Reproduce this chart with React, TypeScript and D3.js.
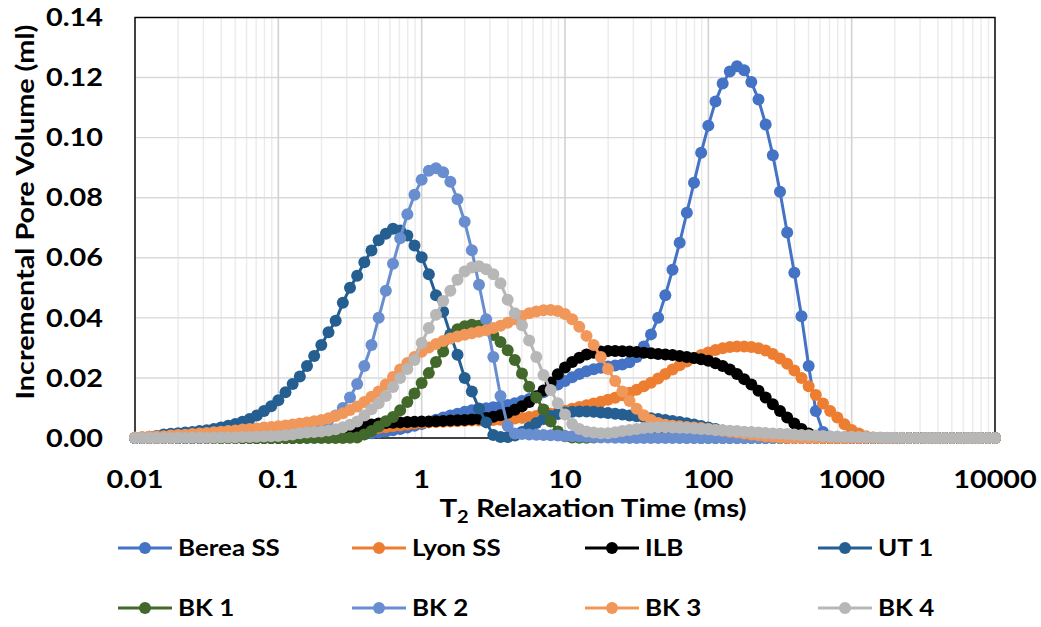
import React from 'react';
import * as d3 from 'd3';

// T2 bins: 20 log-spaced bins per decade, 0.01 ms to 10000 ms (121 bins)
const T2_BINS: number[] = d3.range(121).map((i) => 0.01 * Math.pow(10, i / 20));

// Incremental pore volume per bin, in µL (0.001 ml)
const bereaSS = [
  0, 0, 0, 0, 0.1, 0.1, 0.1, 0.1, 0.1, 0.2,
  0.2, 0.2, 0.2, 0.2, 0.3, 0.3, 0.3, 0.3, 0.4, 0.4,
  0.4, 0.4, 0.5, 0.5, 0.5, 0.6, 0.6, 0.7, 0.8, 0.9,
  1.0, 1.2, 1.4, 1.6, 1.9, 2.2, 2.6, 3.0, 3.5, 4.1,
  4.7, 5.4, 6.1, 6.8, 7.5, 8.1, 8.7, 9.2, 9.6, 9.9,
  10.2, 10.6, 11.0, 11.6, 12.3, 13.0, 14.0, 15.2, 16.5, 17.8,
  19.0, 20.2, 21.3, 22.2, 22.9, 23.4, 23.8, 24.1, 24.5, 25.2,
  27.0, 30.5, 34.5, 40.0, 47.5, 56.0, 65.0, 75.0, 85.0, 95.0,
  104.0, 112.0, 118.0, 122.0, 123.8, 122.4, 118.5, 112.7, 104.4, 94.1,
  82.0, 68.4, 55.0, 40.5, 24.0, 9.0, 2.0, 0.3, 0, 0,
  0, 0, 0, 0, 0, 0, 0, 0, 0, 0,
  0, 0, 0, 0, 0, 0, 0, 0, 0, 0, 0,
];
const lyonSS = [
  0, 0, 0, 0, 0, 0, 0.1, 0.1, 0.1, 0.1,
  0.1, 0.1, 0.2, 0.2, 0.2, 0.2, 0.3, 0.3, 0.3, 0.4,
  0.4, 0.5, 0.6, 0.7, 0.8, 1.0, 1.2, 1.4, 1.6, 1.8,
  2.0, 2.3, 2.6, 3.0, 3.3, 3.6, 3.9, 4.2, 4.5, 4.8,
  5.0, 5.2, 5.3, 5.4, 5.5, 5.6, 5.7, 5.8, 5.8, 5.9,
  6.0, 6.1, 6.3, 6.5, 6.7, 7.0, 7.3, 7.7, 8.1, 8.6,
  9.1, 9.7, 10.3, 10.9, 11.5, 12.1, 12.7, 13.4, 14.2, 15.1,
  16.1, 17.2, 18.4, 19.8, 21.3, 22.8, 24.2, 25.5, 26.6, 27.6,
  28.5, 29.3, 29.9, 30.3, 30.5, 30.5, 30.3, 29.9, 29.1, 28.0,
  26.5, 24.7, 22.5, 20.0, 17.2, 14.3, 11.5, 9.0, 6.8, 4.6,
  2.7, 1.5, 0.6, 0.2, 0, 0, 0, 0, 0, 0,
  0, 0, 0, 0, 0, 0, 0, 0, 0, 0, 0,
];
const ilb = [
  0, 0, 0, 0, 0, 0, 0, 0, 0, 0,
  0, 0, 0, 0, 0, 0, 0, 0, 0, 0,
  0, 0, 0, 0.1, 0.2, 0.3, 0.5, 1.0, 1.6, 2.3,
  3.0, 3.6, 4.1, 4.5, 4.8, 5.0, 5.1, 5.2, 5.3, 5.4,
  5.5, 5.5, 5.6, 5.7, 5.8, 5.9, 6.0, 6.2, 6.4, 6.7,
  7.1, 7.6, 8.4, 9.4, 10.6, 12.0, 13.8, 15.8, 18.5, 21.2,
  23.5, 25.3, 26.7, 27.8, 28.4, 28.8, 29.0, 29.0, 28.9, 28.8,
  28.6, 28.4, 28.2, 28.0, 27.8, 27.6, 27.3, 27.0, 26.6, 26.2,
  25.7, 24.9, 24.0, 22.8, 21.3, 19.6, 17.8, 15.7, 13.5, 11.2,
  9.0, 6.8, 4.8, 3.0, 1.5, 0.5, 0, 0, 0, 0,
  0, 0, 0, 0, 0, 0, 0, 0, 0, 0,
  0, 0, 0, 0, 0, 0, 0, 0, 0, 0, 0,
];
const ut1 = [
  0, 0.2, 0.4, 0.7, 1.2, 1.4, 1.6, 1.8, 2.0, 2.3,
  2.6, 3.0, 3.5, 4.1, 4.7, 5.4, 6.3, 7.5, 9.0, 10.6,
  12.6, 15.2, 18.0, 20.5, 24.0, 27.3, 31.0, 35.2, 39.0, 45.0,
  50.0, 54.0, 58.5, 62.4, 65.8, 68.0, 69.7, 69.1, 67.4, 64.1,
  60.2, 54.5, 47.5, 42.0, 34.5, 27.7, 20.0, 15.5, 9.8, 5.2,
  1.0, 0.3, 0.3, 0.8, 2.0, 3.5, 5.0, 6.3, 7.3, 8.0,
  8.5, 8.7, 8.8, 8.8, 8.7, 8.5, 8.3, 8.1, 7.8, 7.5,
  7.2, 6.9, 6.6, 6.3, 6.0, 5.7, 5.3, 4.9, 4.5, 4.0,
  3.5, 3.0, 2.5, 2.0, 1.6, 1.2, 0.9, 0.6, 0.4, 0.2,
  0.1, 0, 0, 0, 0, 0, 0, 0, 0, 0,
  0, 0, 0, 0, 0, 0, 0, 0, 0, 0,
  0, 0, 0, 0, 0, 0, 0, 0, 0, 0, 0,
];
const bk1 = [
  0, 0, 0, 0, 0, 0, 0, 0, 0, 0,
  0, 0, 0, 0, 0, 0, 0, 0, 0, 0,
  0, 0, 0, 0, 0, 0, 0, 0, 0, 0,
  0.1, 0.2, 1.2, 2.3, 3.8, 5.6, 7.0, 9.2, 12.0, 14.8,
  18.3, 21.6, 25.3, 28.8, 33.3, 36.2, 37.2, 37.7, 37.4, 36.2,
  34.3, 32.0, 29.2, 26.0, 21.5, 17.1, 13.5, 9.5, 5.5, 2.2,
  0.6, 0.2, 0.1, 0.1, 0.2, 0.3, 0.4, 0.5, 0.5, 0.5,
  0.5, 0.4, 0.4, 0.3, 0.3, 0.2, 0.2, 0.1, 0.1, 0,
  0, 0, 0, 0, 0, 0, 0, 0, 0, 0,
  0, 0, 0, 0, 0, 0, 0, 0, 0, 0,
  0, 0, 0, 0, 0, 0, 0, 0, 0, 0,
  0, 0, 0, 0, 0, 0, 0, 0, 0, 0, 0,
];
const bk2 = [
  0, 0, 0, 0.1, 0.1, 0.1, 0.1, 0.1, 0.2, 0.2,
  0.2, 0.3, 0.3, 0.4, 0.5, 0.6, 0.7, 0.8, 1.0, 1.2,
  1.5, 1.8, 2.2, 2.7, 3.3, 4.0, 4.9, 6.0, 7.5, 10.0,
  13.5, 18.0, 24.0, 31.0, 40.0, 49.0, 58.0, 66.5, 74.5, 81.0,
  86.0, 89.0, 89.8, 88.5, 85.3, 79.5, 72.0, 62.5, 51.0, 39.5,
  27.0, 14.0, 4.0, 1.5, 1.3, 1.2, 1.1, 1.0, 0.9, 0.8,
  0.7, 0.6, 0.5, 0.4, 0.3, 0.2, 0.2, 0.1, 0.1, 0,
  0, 0, 0, 0, 0, 0, 0, 0, 0, 0,
  0, 0, 0, 0, 0, 0, 0, 0, 0, 0,
  0, 0, 0, 0, 0, 0, 0, 0, 0, 0,
  0, 0, 0, 0, 0, 0, 0, 0, 0, 0,
  0, 0, 0, 0, 0, 0, 0, 0, 0, 0, 0,
];
const bk3 = [
  0.2, 0.3, 0.4, 0.5, 0.6, 0.8, 1.0, 1.1, 1.3, 1.5,
  1.7, 1.9, 2.1, 2.3, 2.5, 2.8, 3.0, 3.2, 3.5, 3.7,
  3.9, 4.2, 4.5, 4.8, 5.2, 5.6, 6.0, 6.6, 7.3, 8.2,
  9.3, 10.5, 12.0, 13.7, 15.5, 17.8, 20.3, 22.8, 25.0, 27.0,
  28.7, 30.1, 31.3, 32.3, 33.1, 33.8, 34.4, 34.9, 35.4, 35.9,
  36.6, 37.4, 38.4, 39.5, 40.6, 41.5, 42.1, 42.5, 42.6, 42.3,
  41.3, 39.5, 37.0, 34.0, 31.0, 27.0, 23.0, 19.0, 15.5, 12.3,
  9.7, 7.6, 6.0, 5.0, 4.4, 4.1, 3.9, 3.7, 3.5, 3.3,
  3.0, 2.7, 2.4, 2.1, 1.8, 1.5, 1.2, 0.9, 0.6, 0.4,
  0.2, 0.1, 0, 0, 0, 0, 0, 0, 0, 0,
  0, 0, 0, 0, 0, 0, 0, 0, 0, 0,
  0, 0, 0, 0, 0, 0, 0, 0, 0, 0, 0,
];
const bk4 = [
  0, 0, 0, 0, 0, 0, 0.1, 0.1, 0.1, 0.1,
  0.1, 0.1, 0.2, 0.2, 0.2, 0.3, 0.3, 0.4, 0.5, 0.6,
  0.7, 0.9, 1.2, 1.6, 1.8, 2.0, 2.2, 2.5, 2.9, 3.6,
  4.4, 5.5, 7.5, 9.6, 11.6, 14.0, 17.0, 20.0, 23.0, 26.0,
  31.6, 36.6, 41.0, 45.6, 49.0, 52.7, 55.4, 56.8, 57.2, 56.2,
  54.5, 51.5, 46.0, 41.5, 37.5, 32.5, 27.0, 21.0, 16.0, 11.6,
  7.8, 4.7, 3.0, 2.2, 1.8, 1.6, 1.6, 1.9, 2.3, 2.7,
  3.0, 3.3, 3.5, 3.6, 3.6, 3.5, 3.4, 3.3, 3.2, 3.0,
  2.9, 2.7, 2.6, 2.4, 2.3, 2.1, 2.0, 1.8, 1.7, 1.5,
  1.4, 1.3, 1.2, 1.0, 0.9, 0.8, 0.7, 0.6, 0.5, 0.4,
  0.4, 0.3, 0.3, 0.2, 0.2, 0.1, 0.1, 0.1, 0, 0,
  0, 0, 0, 0, 0, 0, 0, 0, 0, 0, 0,
];

const SERIES_NAMES = ['Berea SS', 'Lyon SS', 'ILB', 'UT 1', 'BK 1', 'BK 2', 'BK 3', 'BK 4'];
const SERIES_COLORS = ['#4472C4', '#ED7D31', '#000000', '#255E91', '#43682B', '#698ED0', '#F1975A', '#B7B7B7'];
const SERIES_VALUES = [bereaSS, lyonSS, ilb, ut1, bk1, bk2, bk3, bk4];

const X_TICKS = [0.01, 0.1, 1, 10, 100, 1000, 10000];
const X_TICK_LABELS = ['0.01', '0.1', '1', '10', '100', '1000', '10000'];
const Y_TICKS = [0, 0.02, 0.04, 0.06, 0.08, 0.1, 0.12, 0.14];

const FONT = "Lato, 'Open Sans', 'DejaVu Sans', sans-serif";
const SX = 1.2; // horizontal glyph widening to mimic the reference face

export default function App() {
  const W = 1041;
  const H = 627;
  const left = 135, right = 995, top = 17.5, bottom = 438;
  const x = d3.scaleLog().domain([0.01, 10000]).range([left, right]);
  const y = d3.scaleLinear().domain([0, 0.14]).range([bottom, top]);

  const minor: number[] = [];
  X_TICKS.slice(0, -1).forEach((d) => {
    for (let k = 2; k <= 9; k++) minor.push(d * k);
  });

  const line = d3
    .line<number>()
    .x((_, i) => x(T2_BINS[i]))
    .y((v) => y(v / 1000));

  const legendCols = [118, 352, 585, 818];
  const legendRows = [548, 608];
  const R = 6;

  return (
    <svg
      width={W}
      height={H}
      style={{ position: 'absolute', left: 0, top: 0, background: '#fff' }}
      fontFamily={FONT}
      fontWeight={700}
    >
      <rect x={0} y={0} width={W} height={H} fill="#fff" />
      {minor.map((d, i) => (
        <line key={'mn' + i} x1={x(d)} x2={x(d)} y1={top} y2={bottom} stroke="#EBEBEB" strokeWidth={1.4} />
      ))}
      {Y_TICKS.map((t, i) => (
        <line key={'hy' + i} x1={left} x2={right} y1={y(t)} y2={y(t)} stroke="#D9D9D9" strokeWidth={1.4} />
      ))}
      {X_TICKS.map((t, i) => (
        <line key={'mj' + i} x1={x(t)} x2={x(t)} y1={top} y2={bottom} stroke="#D2D2D2" strokeWidth={1.6} />
      ))}
      <rect x={left} y={top} width={right - left} height={bottom - top} fill="none" stroke="#000" strokeWidth={1.4} />

      {SERIES_VALUES.map((vals, s) => (
        <g key={'s' + s}>
          <path d={line(vals) || ''} fill="none" stroke={SERIES_COLORS[s]} strokeWidth={3} />
          {vals.map((v, i) => (
            <circle key={i} cx={x(T2_BINS[i])} cy={y(v / 1000)} r={R} fill={SERIES_COLORS[s]} />
          ))}
        </g>
      ))}

      {Y_TICKS.map((t, i) => (
        <text
          key={'yl' + i}
          transform={`translate(103, ${y(t)}) scale(${SX}, 1)`}
          dy="0.36em"
          textAnchor="end"
          fontSize={24}
          fill="#000"
        >
          {t.toFixed(2)}
        </text>
      ))}
      {X_TICKS.map((t, i) => (
        <text
          key={'xl' + i}
          transform={`translate(${x(t)}, 488) scale(${SX}, 1)`}
          textAnchor="middle"
          fontSize={24}
          fill="#000"
        >
          {X_TICK_LABELS[i]}
        </text>
      ))}
      <text transform={`translate(593, 517) scale(1.18, 1)`} textAnchor="middle" fontSize={25} fill="#000">
        T<tspan fontSize={17} dy={6}>2</tspan>
        <tspan dy={-6}> Relaxation Time (ms)</tspan>
      </text>
      <text
        transform={`translate(34, 212) rotate(-90) scale(1.15, 1)`}
        textAnchor="middle"
        fontSize={25}
        fill="#000"
      >
        Incremental Pore Volume (ml)
      </text>

      {SERIES_NAMES.map((name, s) => {
        const cx = legendCols[s % 4];
        const cy = legendRows[Math.floor(s / 4)];
        return (
          <g key={'lg' + s}>
            <line x1={cx} x2={cx + 54} y1={cy} y2={cy} stroke={SERIES_COLORS[s]} strokeWidth={3} />
            <circle cx={cx + 27} cy={cy} r={R} fill={SERIES_COLORS[s]} />
            <text transform={`translate(${cx + 60}, ${cy}) scale(1.18, 1)`} dy="0.36em" fontSize={22} fill="#000">
              {name}
            </text>
          </g>
        );
      })}
    </svg>
  );
}
